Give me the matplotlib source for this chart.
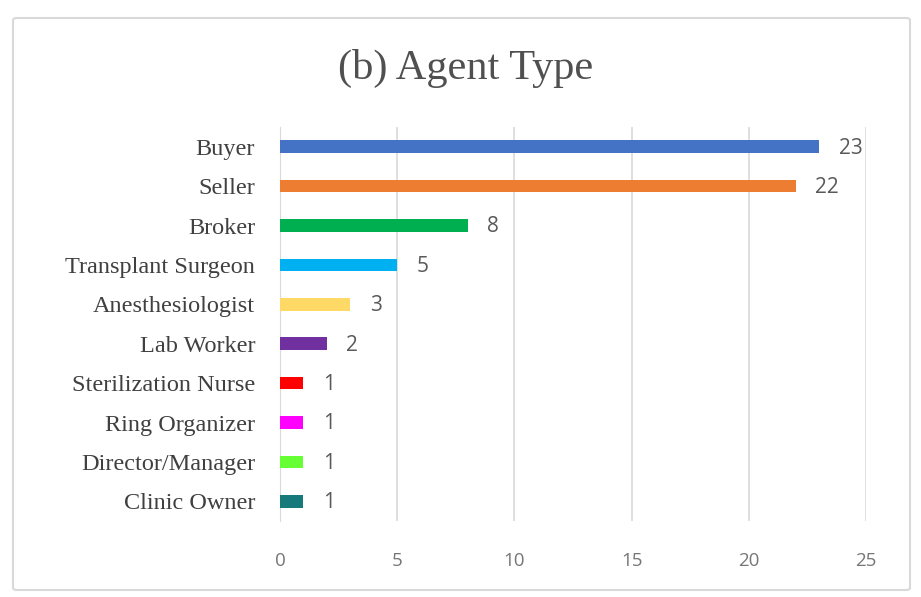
import matplotlib.pyplot as plt
from matplotlib.patches import FancyBboxPatch

categories = ["Buyer", "Seller", "Broker", "Transplant Surgeon", "Anesthesiologist",
              "Lab Worker", "Sterilization Nurse", "Ring Organizer", "Director/Manager",
              "Clinic Owner"]
values = [23, 22, 8, 5, 3, 2, 1, 1, 1, 1]
colors = ["#4472C4", "#ED7D31", "#00B050", "#00B0F0", "#FFD966",
          "#7030A0", "#FF0000", "#FF00FF", "#66FF33", "#167A7A"]
xticks = [0, 5, 10, 15, 20, 25]

W, H = 921, 597
fig = plt.figure(figsize=(W / 100, H / 100), dpi=100)

# outer frame
frame = FancyBboxPatch((13 / W, 1 - 590 / H), (910 - 13) / W, (590 - 18) / H,
                       boxstyle="round,pad=0,rounding_size=0.004",
                       transform=fig.transFigure, facecolor="white",
                       edgecolor="#D9D9D9", linewidth=1.5, zorder=-10)
fig.patches.append(frame)

left, right, top, bottom = 280, 866, 127, 521
ax = fig.add_axes([left / W, 1 - bottom / H, (right - left) / W, (bottom - top) / H])
ax.set_facecolor("none")
ax.set_zorder(5)

ypos = list(range(len(categories)))
ax.barh(ypos, values, height=0.32, color=colors, zorder=3)
ax.set_ylim(len(categories) - 0.5, -0.5)
ax.set_xlim(0, 25)
ax.set_xticks(xticks)
ax.set_xticklabels([str(t) for t in xticks], fontsize=13.5, color="#767676",
                   family="Open Sans")
ax.set_yticks(ypos)
ax.set_yticklabels(categories, fontsize=17.5, color="#404040", family="Liberation Serif")
ax.tick_params(axis="both", length=0)
ax.tick_params(axis="x", pad=22)
ax.tick_params(axis="y", pad=18)
ax.grid(axis="x", color="#D9D9D9", linewidth=1.2, zorder=0)
for s in ["top", "right", "bottom"]:
    ax.spines[s].set_visible(False)
ax.spines["left"].set_color("#D9D9D9")

for y, v in zip(ypos, values):
    ax.annotate(str(v), (v, y), xytext=(14, -1), textcoords="offset points",
                va="center", ha="left", fontsize=15, color="#595959",
                family="Open Sans")

fig.text(466 / W, 1 - 68 / H, "(b) Agent Type", ha="center", va="center",
         fontsize=30.5, color="#505050", family="Liberation Serif")

fig.savefig("out.png", dpi=100)
